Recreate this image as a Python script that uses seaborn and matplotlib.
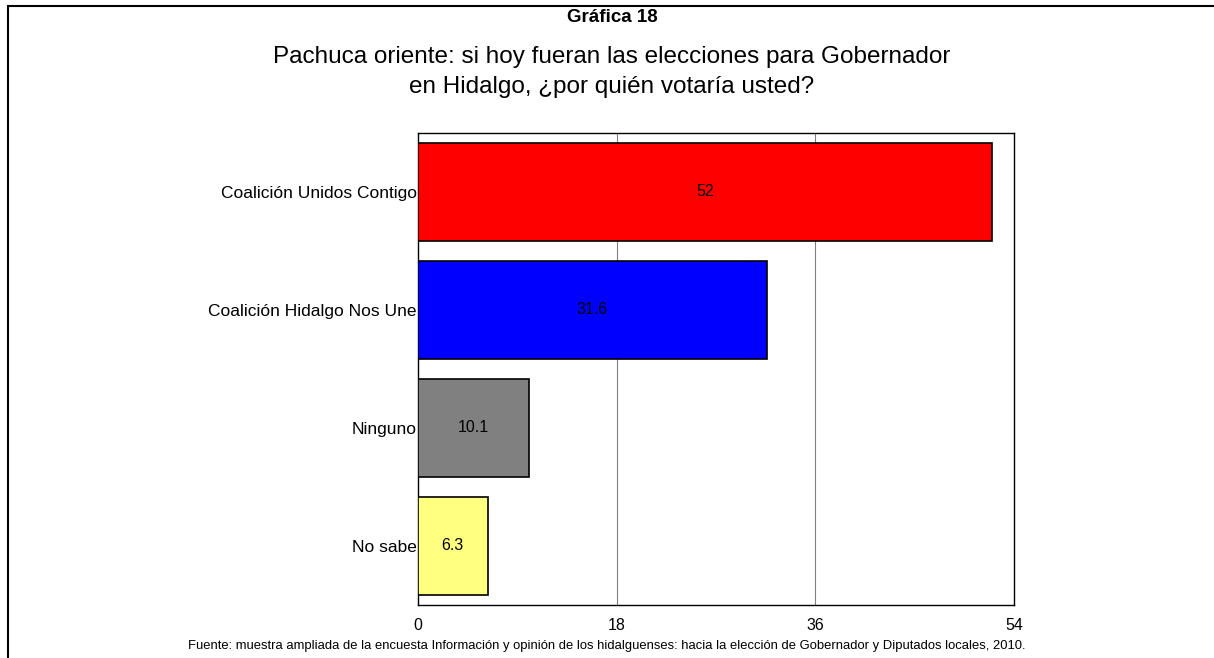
import matplotlib
matplotlib.use("Agg")
import matplotlib.pyplot as plt
import seaborn as sns
import pandas as pd
from matplotlib.lines import Line2D

categorias = ["Coalición Unidos Contigo", "Coalición Hidalgo Nos Une", "Ninguno", "No sabe"]
valores = [52, 31.6, 10.1, 6.3]
etiquetas = ["52", "31.6", "10.1", "6.3"]
colores = ["#FF0000", "#0000FF", "#808080", "#FFFF80"]
ticks_x = [0, 18, 36, 54]

df = pd.DataFrame({"cat": categorias, "val": valores})

sns.set_style("white")
plt.rcParams['font.family'] = ['Liberation Sans', 'DejaVu Sans']

fig = plt.figure(figsize=(12.14, 6.58), dpi=100)
ax = fig.add_axes([418/1214, 1 - 605/658, (1014-418)/1214, (605-133)/658])

sns.barplot(data=df, x="val", y="cat", hue="cat", palette=colores, legend=False,
            saturation=1, width=0.83, edgecolor="black", linewidth=1.2, ax=ax, zorder=3)

ax.set_xlim(0, 54)
ax.set_ylim(3.5, -0.5)
ax.set_xticks(ticks_x)
ax.set_xticklabels([str(t) for t in ticks_x], fontsize=11.5, color="black")
ax.tick_params(axis="x", length=0, pad=9)
ax.tick_params(axis="y", length=0, pad=1)
for lab in ax.get_yticklabels():
    lab.set_fontsize(12.5)
    lab.set_color("black")
ax.set_xlabel("")
ax.set_ylabel("")
for x in [18, 36]:
    ax.axvline(x, color="#808080", linewidth=0.8, zorder=1)
for s in ax.spines.values():
    s.set_visible(True)
    s.set_color("black")
    s.set_linewidth(1.0)

# valores dentro de las barras
for p, t in zip(ax.patches, etiquetas):
    ax.text(p.get_width() / 2, p.get_y() + p.get_height() / 2, t,
            ha="center", va="center", fontsize=11.5, zorder=4, color="black")

cx = 612 / 1214
fig.text(cx, 1 - 18/658, "Gráfica 18", ha="center", va="center",
         fontsize=13.5, fontweight="bold", color="black")
fig.text(cx, 1 - 57/658, "Pachuca oriente: si hoy fueran las elecciones para Gobernador",
         ha="center", va="center", fontsize=17.5, color="black")
fig.text(cx, 1 - 87/658, "en Hidalgo, ¿por quién votaría usted?",
         ha="center", va="center", fontsize=17.5, color="black")
fig.text(607/1214, 1 - 646/658,
         "Fuente: muestra ampliada de la encuesta Información y opinión de los hidalguenses: hacia la elección de Gobernador y Diputados locales, 2010.",
         ha="center", va="center", fontsize=9.4, color="black")

# marco exterior
fig.add_artist(Line2D([8/1214, 1], [1 - 6/658, 1 - 6/658], color="black", linewidth=1.5, transform=fig.transFigure))
fig.add_artist(Line2D([8/1214, 8/1214], [0, 1 - 6/658], color="black", linewidth=1.5, transform=fig.transFigure))

fig.savefig("out.png", dpi=100)
